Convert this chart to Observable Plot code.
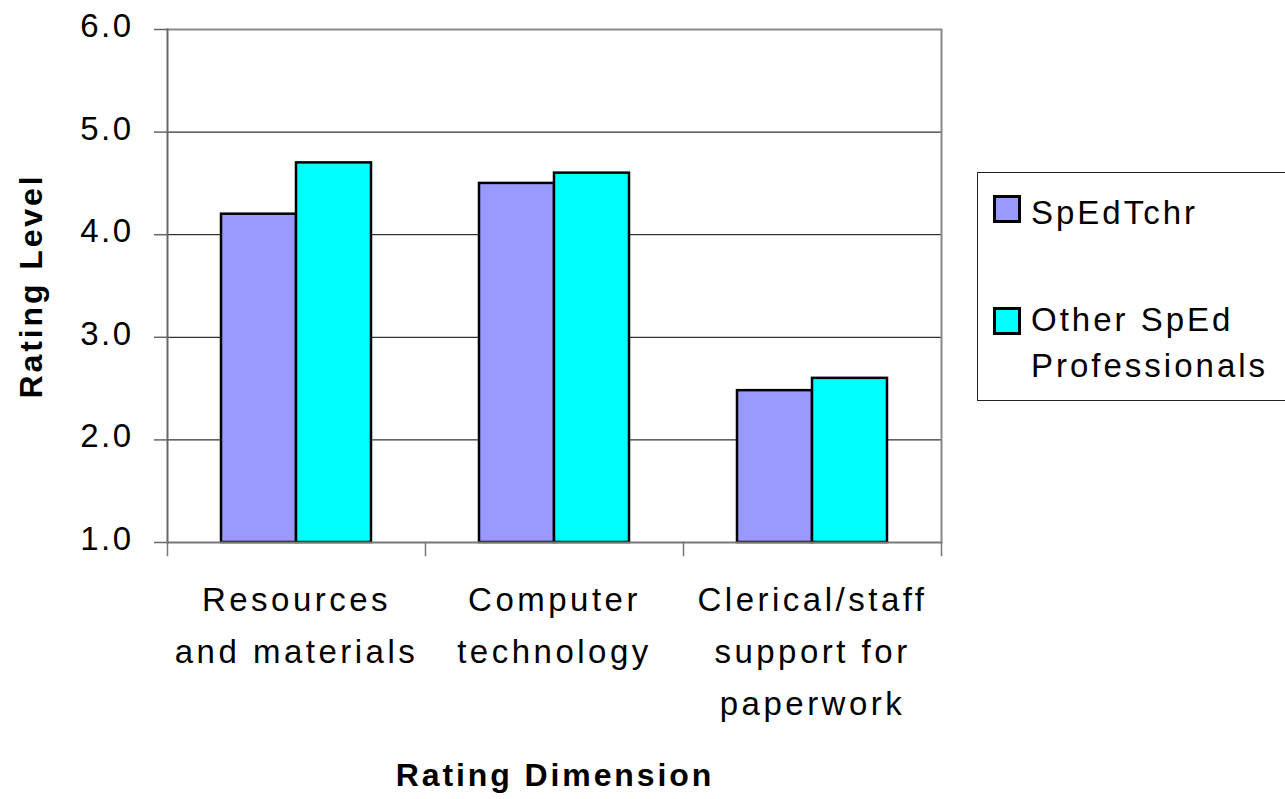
<!DOCTYPE html>
<html>
<head>
<meta charset="utf-8">
<script src="https://cdn.jsdelivr.net/npm/d3@7"></script>
<script src="https://cdn.jsdelivr.net/npm/@observablehq/plot@0.6"></script>
<style>
  html, body { margin: 0; padding: 0; background: #fff; }
  #wrap { position: relative; width: 1285px; height: 799px; font-family: "Liberation Sans", Arial, sans-serif; }
  #chart svg { display: block; }
  #xtitle { position: absolute; left: 0; width: 1110px; top: 757px; text-align: center; font-weight: bold; font-size: 32px; letter-spacing: 2.9px; line-height: 36px; }
  #legend { position: absolute; left: 977px; top: 172px; width: 310px; height: 229px; border: 1px solid #222; box-sizing: border-box; }
  .item { position: absolute; left: 15px; font-size: 33px; letter-spacing: 3px; }
  .sw { position: absolute; left: 0; width: 28px; height: 28px; border: 3px solid #000; box-sizing: border-box; }
  .txt { position: absolute; left: 38px; white-space: nowrap; }
</style>
</head>
<body>
<div id="wrap">
  <div id="chart"></div>
  <div id="xtitle">Rating Dimension</div>
  <div id="legend"></div>
</div>
<script>
const categories = ["Resources\nand materials", "Computer\ntechnology", "Clerical/staff\nsupport for\npaperwork"];
const series = ["SpEdTchr", "Other SpEd Professionals"];
const seriesLabels = ["SpEdTchr", "Other SpEd\nProfessionals"];
const spedTchr = [4.2, 4.5, 2.48];
const otherSped = [4.7, 4.6, 2.6];
const yTicks = [1, 2, 3, 4, 5, 6];
const gridTicks = [2, 3, 4, 5];
const colors = ["#9999FF", "#00FFFF"];

const data = categories.flatMap((c, i) => [
  {cat: c, series: series[0], value: spedTchr[i]},
  {cat: c, series: series[1], value: otherSped[i]}
]);

const H = 799, MT = 29, MB = 257;
const innerH = H - MT - MB;

const chart = Plot.plot({
  width: 1285,
  height: H,
  marginLeft: 166,
  marginRight: 344,
  marginTop: MT,
  marginBottom: MB,
  style: {fontFamily: "'Liberation Sans', Arial, sans-serif", color: "#000", background: "#fff"},
  fx: {domain: categories, padding: 0, axis: null, label: null},
  x: {domain: series, paddingInner: 0, paddingOuter: 0.7, axis: null, label: null},
  y: {domain: [1, 6], label: null},
  color: {domain: series, range: colors},
  marks: [
    Plot.gridY(gridTicks, {stroke: "#000", strokeOpacity: 1, strokeWidth: 1}),
    Plot.barY(data, {fx: "cat", x: "series", y1: 1, y2: "value", fill: "series", stroke: "#000", strokeWidth: 2.5}),
    Plot.ruleY([6], {stroke: "#888", strokeWidth: 2}),
    Plot.ruleY([1], {stroke: "#777", strokeWidth: 2}),
    Plot.frame({anchor: "left", facetAnchor: "left", stroke: "#666", strokeWidth: 2}),
    Plot.frame({anchor: "right", facetAnchor: "right", stroke: "#888", strokeWidth: 2}),
    Plot.frame({anchor: "left", insetTop: innerH, insetBottom: -13, stroke: "#777", strokeWidth: 1.5}),
    Plot.frame({anchor: "right", facetAnchor: "right", insetTop: innerH, insetBottom: -13, stroke: "#777", strokeWidth: 1.5}),
    Plot.axisY({ticks: yTicks, tickSize: 13, tickFormat: () => "", label: null, stroke: "#666", strokeWidth: 1.5}),
    Plot.axisY({ticks: yTicks, tickSize: 0, tickPadding: 34, tickFormat: d => d.toFixed(1), label: null, fontSize: 33, dy: -3, fill: "#000"}),
    Plot.text(categories, {fx: d => d, text: d => d, frameAnchor: "bottom", lineAnchor: "top", dy: 31, fontSize: 33, lineHeight: 1.58, fill: "#000"}),
    Plot.text(["Rating Level"], {text: d => d, frameAnchor: "left", facetAnchor: "left", textAnchor: "middle", rotate: -90, dx: -136, fontSize: 32, fontWeight: "bold", fill: "#000"})
  ]
});
document.getElementById("chart").appendChild(chart);
chart.querySelectorAll("text").forEach(t => {
  const s = t.textContent;
  let ls = "3.5px";
  if (s === "Rating Level") ls = "2.9px";
  else if (/^\d\.0$/.test(s)) ls = "2.5px";
  t.setAttribute("letter-spacing", ls);
});

const legend = document.getElementById("legend");
const layout = [
  {top: 15, lineHeight: 49, swTop: 7},
  {top: 124, lineHeight: 46, swTop: 10}
];
seriesLabels.forEach((s, i) => {
  const item = document.createElement("div");
  item.className = "item";
  item.style.top = layout[i].top + "px";
  item.style.lineHeight = layout[i].lineHeight + "px";
  const sw = document.createElement("div");
  sw.className = "sw";
  sw.style.background = colors[i];
  sw.style.top = layout[i].swTop + "px";
  const tx = document.createElement("div");
  tx.className = "txt";
  tx.innerHTML = s.split("\n").join("<br>");
  item.appendChild(sw);
  item.appendChild(tx);
  legend.appendChild(item);
});
</script>
</body>
</html>
